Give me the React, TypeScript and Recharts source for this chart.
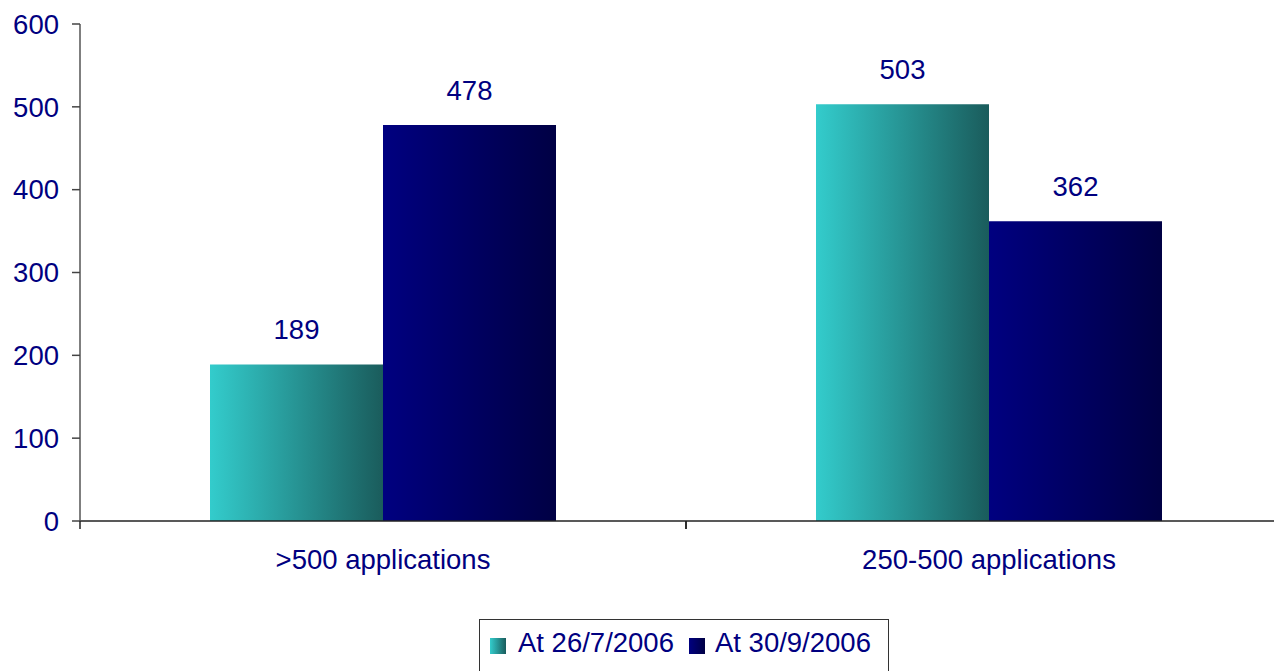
import React from "react";
import { BarChart, Bar, XAxis, YAxis, LabelList } from "recharts";

// Values
const categories = [">500 applications", "250-500 applications"];
const at26July = [189, 503];
const at30Sept = [478, 362];
const yTicks = [0, 100, 200, 300, 400, 500, 600];
const seriesNames = ["At 26/7/2006", "At 30/9/2006"];

const data = categories.map((name, i) => ({
  name,
  july: at26July[i],
  sept: at30Sept[i],
}));

const CHART_W = 1320;
const CHART_H = 671;
const MARGIN = { top: 24, right: 28, bottom: 0, left: 0 };
const Y_AXIS_W = 80;
const PLOT_W = CHART_W - MARGIN.left - MARGIN.right - Y_AXIS_W;
const BAND = PLOT_W / categories.length;

const NAVY_TEXT = "#000080";
const FONT = "'Liberation Sans', Arial, sans-serif";
const FONT_SIZE = 27.5;

/** Category label in the middle, tick marks at the band edges (Excel style). */
function CategoryTick(props: any) {
  const { x, y, payload } = props;
  const half = BAND / 2;
  return (
    <g>
      <line x1={x - half} x2={x - half} y1={y - 8} y2={y} stroke="#222" strokeWidth={1.5} />
      <line x1={x + half} x2={x + half} y1={y - 8} y2={y} stroke="#222" strokeWidth={1.5} />
      <text x={x} y={y + 40} textAnchor="middle" fill={NAVY_TEXT} fontSize={FONT_SIZE} fontFamily={FONT}>
        {payload.value}
      </text>
    </g>
  );
}

export default function App() {
  return (
    <div
      style={{
        position: "fixed",
        top: 0,
        left: 0,
        width: 1274,
        height: 671,
        overflow: "hidden",
        background: "#fff",
        fontFamily: FONT,
      }}
    >
      <BarChart width={CHART_W} height={CHART_H} data={data} margin={MARGIN} barGap={0} barSize={173}>
        <defs>
          <linearGradient id="tealGrad" x1="0" y1="0" x2="1" y2="0">
            <stop offset="0%" stopColor="#33CCCC" />
            <stop offset="100%" stopColor="#1A5C5C" />
          </linearGradient>
          <linearGradient id="navyGrad" x1="0" y1="0" x2="1" y2="0">
            <stop offset="0%" stopColor="#000080" />
            <stop offset="100%" stopColor="#000044" />
          </linearGradient>
        </defs>
        <XAxis
          dataKey="name"
          height={150}
          tickLine={false}
          tickSize={8}
          tickMargin={0}
          axisLine={{ stroke: "#222", strokeWidth: 1.5 }}
          tick={<CategoryTick />}
          interval={0}
        />
        <YAxis
          width={Y_AXIS_W}
          domain={[0, 600]}
          ticks={yTicks}
          tickSize={8}
          tickMargin={13}
          axisLine={{ stroke: "#555", strokeWidth: 1.5 }}
          tickLine={{ stroke: "#444", strokeWidth: 1.5 }}
          tick={{ fill: NAVY_TEXT, fontSize: FONT_SIZE, fontFamily: FONT }}
        />
        <Bar dataKey="july" name={seriesNames[0]} fill="url(#tealGrad)" isAnimationActive={false}>
          <LabelList dataKey="july" position="top" offset={25} fill={NAVY_TEXT} fontSize={FONT_SIZE} fontFamily={FONT} />
        </Bar>
        <Bar dataKey="sept" name={seriesNames[1]} fill="url(#navyGrad)" isAnimationActive={false}>
          <LabelList dataKey="sept" position="top" offset={25} fill={NAVY_TEXT} fontSize={FONT_SIZE} fontFamily={FONT} />
        </Bar>
      </BarChart>

      {/* Boxed legend under the plot */}
      <div
        style={{
          position: "absolute",
          left: 479,
          top: 619,
          width: 410,
          height: 60,
          border: "1.5px solid #333",
          boxSizing: "border-box",
          display: "flex",
          alignItems: "flex-start",
          paddingTop: 7,
          paddingLeft: 10,
          color: NAVY_TEXT,
          fontSize: FONT_SIZE,
          whiteSpace: "nowrap",
        }}
      >
        <span
          style={{
            display: "inline-block",
            width: 16,
            height: 16,
            marginTop: 11,
            marginRight: 12,
            background: "linear-gradient(to right, #33CCCC, #1A5C5C)",
          }}
        />
        <span style={{ marginRight: 15 }}>{seriesNames[0]}</span>
        <span
          style={{
            display: "inline-block",
            width: 16,
            height: 16,
            marginTop: 11,
            marginRight: 10,
            background: "linear-gradient(to right, #000080, #000044)",
          }}
        />
        <span>{seriesNames[1]}</span>
      </div>
    </div>
  );
}
